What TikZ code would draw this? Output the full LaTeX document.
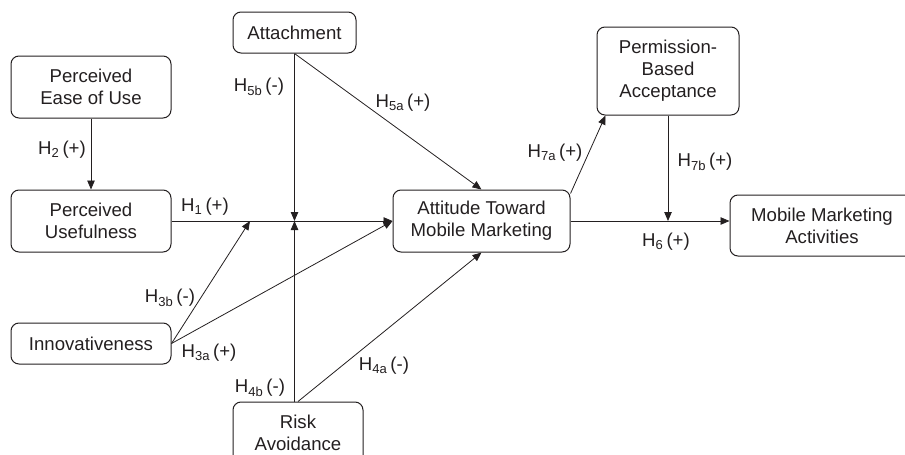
\documentclass[tikz,border=0pt]{standalone}
\usepackage{fontspec}
\setmainfont{Liberation Sans}
\usetikzlibrary{arrows.meta}
\definecolor{ink}{HTML}{231F20}
\newcommand{\hyp}[2]{H\textsubscript{#1}\,#2}
\begin{document}
\begin{tikzpicture}[x=1pt,y=-1pt,
  box/.style={draw=ink,line width=1pt,rounded corners=8pt,inner sep=0pt,align=center,
    font=\fontsize{18.6}{22}\selectfont,text=ink},
  lbl/.style={inner sep=0pt,font=\fontsize{18.6}{22}\selectfont,text=ink},
  con/.style={draw=ink,line width=0.8pt},
  arr/.style={con,-{Triangle[length=9pt,width=7.5pt]}}]
\useasboundingbox (0,0) rectangle (905,455);
\node[box,minimum width=123pt,minimum height=41pt] (attach) at (294.5,32.5) {Attachment};
\node[box,minimum width=160pt,minimum height=62pt] (peou) at (91,87) {Perceived\\Ease of Use};
\node[box,minimum width=160pt,minimum height=62pt] (pu) at (91,221) {Perceived\\Usefulness};
\node[box,minimum width=160pt,minimum height=41pt] (innov) at (91,343.5) {Innovativeness};
\node[box,minimum width=177pt,minimum height=62pt] (att) at (481.5,221) {Attitude Toward\\Mobile Marketing};
\node[box,minimum width=142pt,minimum height=88pt] (perm) at (668,71) {Permission-\\Based\\Acceptance};
\node[box,minimum width=130pt,minimum height=62pt] (risk) at (298,433) {Risk\\Avoidance};
\node[box,minimum width=184pt,minimum height=61pt] (mma) at (822,225.5) {Mobile Marketing\\Activities};
\coordinate (m) at (294.5,221);
\coordinate (h) at (250,221);
\coordinate (p) at (668,221);
% connectors
\draw[arr] (peou.south) -- (pu.north);
\draw[arr] (pu.east) -- (att.west);
\draw[arr] (attach.south) -- (m);
\draw[arr] (risk.north -| m) -- (m);
\draw[arr] (attach.south) -- (att.north);
\draw[arr] (risk.north) -- (att.south);
\draw[arr] (innov.east) -- (h);
\draw[arr] (innov.east) -- (att.west);
\draw[arr] (att.east) -- (att.east -| mma.west);
\draw[arr] (perm.south) -- (p);
\draw[arr] ([yshift=-4pt]att.north east) -- ([xshift=9pt]perm.south west);
% labels
\node[lbl] (l5b) at (259,87) {\hyp{5b}{(-)}};
\node[lbl] (l5a) at (403,103) {\hyp{5a}{(+)}};
\node[lbl] (l2) at (62,150) {\hyp{2}{(+)}};
\node[lbl] (l1) at (205,207) {\hyp{1}{(+)}};
\node[lbl] (l3b) at (170,298) {\hyp{3b}{(-)}};
\node[lbl] (l3a) at (209,353) {\hyp{3a}{(+)}};
\node[lbl] (l4b) at (260,388) {\hyp{4b}{(-)}};
\node[lbl] (l4a) at (384,366) {\hyp{4a}{(-)}};
\node[lbl] (l7a) at (555,153) {\hyp{7a}{(+)}};
\node[lbl] (l7b) at (705,162) {\hyp{7b}{(+)}};
\node[lbl] (l6) at (666,242) {\hyp{6}{(+)}};
\end{tikzpicture}
\end{document}
